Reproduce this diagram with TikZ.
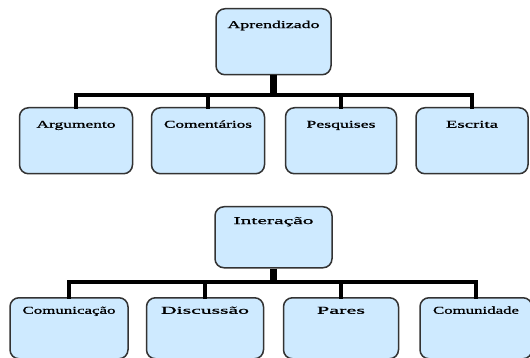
\documentclass[tikz,border=0pt]{standalone}
\usepackage{fontspec}
\setmainfont{Liberation Serif}[FakeBold=0.8]
\usepackage{graphicx}
\newcommand\fitw[2]{\resizebox{#1pt}{\height}{#2}}
\begin{document}
\begin{tikzpicture}[x=1pt,y=-1pt,
  box/.style={draw=black!80,line width=1.5pt,rounded corners=9pt,
    fill={rgb,255:red,206;green,234;blue,255},anchor=north,inner xsep=0pt,inner ysep=0pt,
    font=\fontsize{10.5}{12}\selectfont},
  bar/.style={line width=4pt,line join=miter,line cap=rect},
  stem/.style={line width=6.5pt}]
\useasboundingbox (0,0) rectangle (530,358);
% top tree
\node[box,minimum width=115pt,text height=19.3pt,text depth=46.7pt] (ap) at (273.5,8) {\fitw{92}{Aprendizado}};
\node[box,minimum width=113pt,text height=20pt,text depth=46pt] (ar) at (76,107) {\fitw{79}{Argumento}};
\node[box,minimum width=113pt,text height=20pt,text depth=46pt] (co) at (208,107) {\fitw{88}{Comentários}};
\node[box,minimum width=111pt,text height=20pt,text depth=46pt] (pe) at (341,107) {\fitw{69}{Pesquises}};
\node[box,minimum width=112pt,text height=20pt,text depth=46pt] (es) at (472,107) {\fitw{52}{Escrita}};
\coordinate (j1) at (273.5,95);
\draw[stem] (ap.south) -- (j1);
\draw[bar] (ar.north) -- (ar.north |- j1) -- (es.north |- j1) -- (es.north);
\draw[bar] (co.north) -- (co.north |- j1);
\draw[bar] (pe.north) -- (pe.north |- j1);
% bottom tree
\node[box,minimum width=117pt,text height=17.3pt,text depth=43.7pt] (in) at (273.5,206) {\fitw{80}{Interação}};
\node[box,minimum width=118pt,text height=16pt,text depth=45pt] (cm) at (69,297) {\fitw{93}{Comunicação}};
\node[box,minimum width=117pt,text height=16pt,text depth=45pt] (di) at (205,297) {\fitw{88}{Discussão}};
\node[box,minimum width=115pt,text height=16pt,text depth=45pt] (pa) at (341,297) {\fitw{48}{Pares}};
\node[box,minimum width=112pt,text height=16pt,text depth=45pt] (cu) at (476,297) {\fitw{86}{Comunidade}};
\coordinate (j2) at (273.5,282);
\draw[stem] (in.south) -- (j2);
\draw[bar] (cm.north) -- (cm.north |- j2) -- (cu.north |- j2) -- (cu.north);
\draw[bar] (di.north) -- (di.north |- j2);
\draw[bar] (pa.north) -- (pa.north |- j2);
\end{tikzpicture}
\end{document}
